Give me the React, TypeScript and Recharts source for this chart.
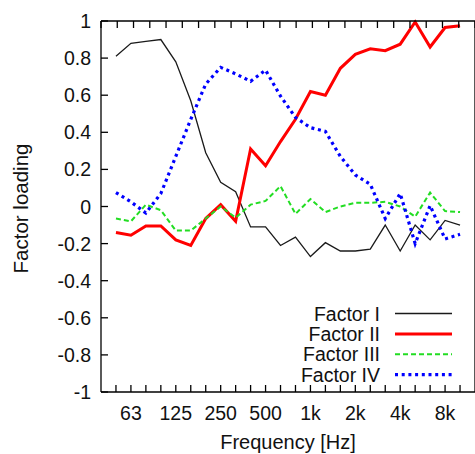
import React from "react";
import { LineChart, Line, XAxis, YAxis, Legend } from "recharts";

const font = '"Liberation Sans", Arial, sans-serif';
const ink = "#111";

// 1/3-octave band centres
const bands = [
  "50", "63", "80", "100", "125", "160", "200", "250", "315", "400", "500", "630",
  "800", "1k", "1.25k", "1.6k", "2k", "2.5k", "3.15k", "4k", "5k", "6.3k", "8k", "10k",
];
const labelledBands = ["63", "125", "250", "500", "1k", "2k", "4k", "8k"];

const factorI = [
  0.81, 0.88, 0.89, 0.9, 0.78, 0.57, 0.29, 0.13, 0.08, -0.11, -0.11, -0.21,
  -0.165, -0.27, -0.195, -0.24, -0.24, -0.23, -0.1, -0.24, -0.1, -0.18, -0.075, -0.1,
];
const factorII = [
  -0.14, -0.155, -0.105, -0.105, -0.18, -0.21, -0.065, 0.01, -0.08, 0.31, 0.22, 0.35,
  0.47, 0.62, 0.6, 0.745, 0.82, 0.85, 0.84, 0.875, 0.995, 0.86, 0.965, 0.975,
];
const factorIII = [
  -0.065, -0.08, 0.01, -0.02, -0.13, -0.13, -0.065, 0.0, -0.06, 0.01, 0.03, 0.11,
  -0.04, 0.04, -0.03, 0.0, 0.02, 0.02, 0.025, 0.0, -0.055, 0.075, -0.025, -0.03,
];
const factorIV = [
  0.075, 0.025, -0.035, 0.07, 0.27, 0.47, 0.66, 0.75, 0.715, 0.675, 0.735, 0.595,
  0.48, 0.425, 0.405, 0.27, 0.17, 0.12, -0.065, 0.07, -0.2, 0.005, -0.175, -0.15,
];

const yTicks = [1, 0.8, 0.6, 0.4, 0.2, 0, -0.2, -0.4, -0.6, -0.8, -1];
const yTickLabels = ["1", "0.8", "0.6", "0.4", "0.2", "0", "-0.2", "-0.4", "-0.6", "-0.8", "-1"];
const xTicks = bands.map((_, i) => i);

const series = [
  { key: "f1", name: "Factor I", color: "#1a1a1a", width: 1.3, dash: undefined },
  { key: "f2", name: "Factor II", color: "#ff0000", width: 3, dash: undefined },
  { key: "f3", name: "Factor III", color: "#22dd22", width: 2, dash: "5 3" },
  { key: "f4", name: "Factor IV", color: "#0000ff", width: 3.2, dash: "3 3.7" },
];

const data = bands.map((band, i) => ({
  idx: i,
  band,
  f1: factorI[i],
  f2: factorII[i],
  f3: factorIII[i],
  f4: factorIV[i],
}));

const TICK = 7;
const fs = 19.5;

const LeftTick = (props: any) => {
  const { x, y, payload } = props;
  const i = yTicks.indexOf(payload.value);
  return (
    <g>
      <line x1={x} x2={x + TICK} y1={y} y2={y} stroke="#000" strokeWidth={1.3} />
      <text x={x - 10} y={y} textAnchor="end" dominantBaseline="central" fontSize={fs} fontFamily={font} fill={ink}>
        {yTickLabels[i]}
      </text>
    </g>
  );
};

const RightTick = (props: any) => {
  const { x, y } = props;
  return <line x1={x - TICK} x2={x} y1={y} y2={y} stroke="#000" strokeWidth={1.3} />;
};

const BottomTick = (props: any) => {
  const { x, y, payload } = props;
  const band = bands[payload.value];
  return (
    <g>
      <line x1={x} x2={x} y1={y - TICK} y2={y} stroke="#000" strokeWidth={1.3} />
      {labelledBands.includes(band) && (
        <text x={x} y={y + 21} textAnchor="middle" dominantBaseline="central" fontSize={fs} fontFamily={font} fill={ink}>
          {band}
        </text>
      )}
    </g>
  );
};

const TopTick = (props: any) => {
  const { x, y } = props;
  return <line x1={x} x2={x} y1={y} y2={y + TICK} stroke="#000" strokeWidth={1.3} />;
};

const XTitle = (props: any) => {
  const { viewBox } = props;
  return (
    <text x={viewBox.x + viewBox.width / 2} y={viewBox.y + viewBox.height - 5} textAnchor="middle" fontSize={20} fontFamily={font} fill={ink}>
      Frequency [Hz]
    </text>
  );
};

const YTitle = (props: any) => {
  const { viewBox } = props;
  const cx = viewBox.x + 20;
  const cy = viewBox.y + viewBox.height / 2 + 2;
  return (
    <text x={cx} y={cy} transform={`rotate(-90 ${cx} ${cy})`} textAnchor="middle" dominantBaseline="central" fontSize={20.5} fontFamily={font} fill={ink}>
      Factor loading
    </text>
  );
};

const LegendBox = () => (
  <svg width={180} height={84}>
    {series.map((s, i) => {
      const y = 10.5 + i * 20.4;
      return (
        <g key={s.key}>
          <text x={100} y={y} textAnchor="end" dominantBaseline="central" fontSize={fs} fontFamily={font} fill={ink}>
            {s.name}
          </text>
          <line x1={115} x2={172} y1={y} y2={y} stroke={s.color} strokeWidth={s.width} strokeDasharray={s.dash} />
        </g>
      );
    })}
  </svg>
);

export default function App() {
  return (
    <div style={{ width: 475, height: 454, background: "#fff" }}>
      <style>{"body{margin:0}"}</style>
      <LineChart width={475} height={454} data={data} margin={{ top: 20, right: -1, bottom: 0, left: 0 }}>
        <XAxis
          dataKey="idx"
          type="number"
          domain={[-1, 24]}
          ticks={xTicks}
          interval={0}
          tickLine={false}
          tickSize={0}
          tickMargin={0}
          height={62}
          axisLine={{ stroke: "#000", strokeWidth: 1.3 }}
          tick={<BottomTick />}
          label={XTitle}
        />
        <XAxis
          xAxisId="top"
          orientation="top"
          type="number"
          domain={[-1, 24]}
          ticks={xTicks}
          interval={0}
          tickLine={false}
          tickSize={0}
          tickMargin={0}
          height={1}
          axisLine={{ stroke: "#000", strokeWidth: 1.3 }}
          tick={<TopTick />}
        />
        <YAxis
          type="number"
          domain={[-1, 1]}
          ticks={yTicks}
          interval={0}
          tickLine={false}
          tickSize={0}
          tickMargin={0}
          width={101}
          axisLine={{ stroke: "#000", strokeWidth: 1.3 }}
          tick={<LeftTick />}
          label={YTitle}
        />
        <YAxis
          yAxisId="right"
          orientation="right"
          type="number"
          domain={[-1, 1]}
          ticks={yTicks}
          interval={0}
          tickLine={false}
          tickSize={0}
          tickMargin={0}
          width={1}
          axisLine={{ stroke: "#000", strokeWidth: 1.3 }}
          tick={<RightTick />}
        />
        {series.map((s) => (
          <Line
            key={s.key}
            type="linear"
            dataKey={s.key}
            name={s.name}
            stroke={s.color}
            strokeWidth={s.width}
            strokeDasharray={s.dash}
            dot={false}
            isAnimationActive={false}
          />
        ))}
        <Legend
          layout="vertical"
          align="center"
          verticalAlign="middle"
          content={<LegendBox />}
          wrapperStyle={{ left: 280, top: 303, width: 180, height: 84 }}
        />
      </LineChart>
    </div>
  );
}
